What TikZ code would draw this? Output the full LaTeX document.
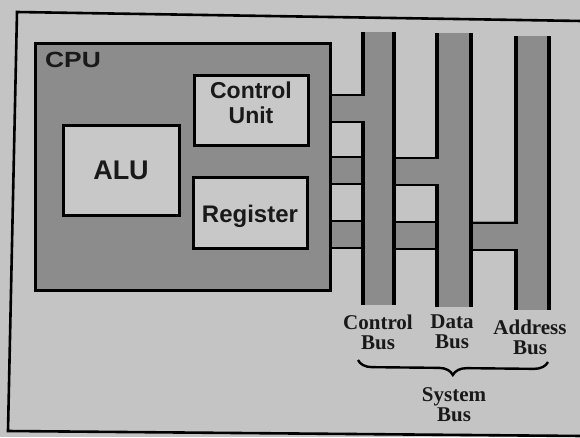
\documentclass[tikz,border=0pt]{standalone}
\usepackage{fontspec}
\setmainfont{Liberation Serif}
\newfontfamily\arialfont{Liberation Sans}
\usetikzlibrary{decorations.pathreplacing}
\definecolor{paper}{RGB}{196,196,196}
\definecolor{busgray}{RGB}{140,140,140}
\definecolor{boxlight}{RGB}{200,200,200}
\tikzset{
  busfill/.style={fill=busgray, draw=none},
  busline/.style={line width=3.2pt, black},
  joinline/.style={line width=2.6pt, black},
  unitbox/.style={draw=black, line width=3pt, fill=boxlight},
  unittext/.style={font=\arialfont\bfseries\fontsize{23}{25}\selectfont, align=center, text=black!90},
  buslabel/.style={font=\bfseries\fontsize{21}{20}\selectfont, align=center, text=black!90},
}
\begin{document}
\begin{tikzpicture}[x=1pt,y=-1pt]
\useasboundingbox (0,0) rectangle (580,437);
\fill[paper] (0,0) rectangle (580,437);
% outer frame
\coordinate (ftl) at (17,12);
\coordinate (fbl) at (8,431);
\coordinate (ftr) at (582,21);
\coordinate (fbr) at (582,436);
\draw[line width=2.6pt, black] (ftr) -- (ftl) -- (fbl) -- (fbr);
% join stripes
\fill[busgray] (330,95) rectangle (378,122);
\fill[busgray] (330,157) rectangle (454,185);
\fill[busgray] (330,221) rectangle (532,249);
% buses
\fill[busgray] (363,32) rectangle (394,305);
\fill[busgray] (437,33) rectangle (471,307);
\fill[busgray] (516,36) rectangle (549,310);
% CPU
\draw[draw=black, line width=3pt, fill=busgray] (35,43) rectangle (330,290);
\node[font=\arialfont\bfseries\fontsize{22}{22}\selectfont, xscale=1.2, text=black!90] (cpulbl) at (73,60) {CPU};
\node[unitbox, minimum width=114pt, minimum height=70pt] (cu) at (251,110) {};
\node[unittext] (cutext) at (251,103) {Control\\Unit};
\node[unitbox, minimum width=116pt, minimum height=90pt] (alu) at (121,170) {};
\node[unittext, font=\arialfont\bfseries\fontsize{27}{27}\selectfont] (alutext) at (alu) {ALU};
\node[unitbox, minimum width=114pt, minimum height=71pt] (reg) at (250,212.5) {};
\node[unittext, font=\arialfont\bfseries\fontsize{24}{24}\selectfont] (regtext) at (250,216) {Register};
% join stripe edges
\draw[joinline] (330,95) -- (365,95);
\draw[joinline] (330,122) -- (365,122);
\draw[joinline] (330,157) -- (363,157);
\draw[joinline] (330,184) -- (363,184);
\draw[joinline] (394,158) -- (439,158);
\draw[joinline] (394,185) -- (439,185);
\draw[joinline] (330,221) -- (363,221);
\draw[joinline] (330,248) -- (363,248);
\draw[joinline] (394,222) -- (437,222);
\draw[joinline] (394,249) -- (437,249);
\draw[joinline] (471,223) -- (518,223);
\draw[joinline] (471,250) -- (518,250);
% bus lines
\draw[busline] (363,32) -- (363,96);
\draw[busline] (363,121) -- (363,305);
\draw[busline] (394,32) -- (394,305);
\draw[busline] (437,33) -- (437,159);
\draw[busline] (437,184) -- (437,307);
\draw[busline] (471,33) -- (471,307);
\draw[busline] (516,36) -- (516,224);
\draw[busline] (516,249) -- (516,310);
\draw[busline] (549,36) -- (549,310);
% labels
\node[buslabel] (cblbl) at (378,332) {Control\\Bus};
\node[buslabel] (dblbl) at (452,332) {Data\\Bus};
\node[buslabel] (ablbl) at (530,337) {Address\\Bus};
\coordinate (brl) at (358,360);
\coordinate (brr) at (548,362);
\draw[line width=2.4pt, decorate, decoration={brace, mirror, amplitude=14pt}] (brl) -- (brr);
\node[buslabel] (sblbl) at (454,405) {System\\Bus};
\end{tikzpicture}
\end{document}
